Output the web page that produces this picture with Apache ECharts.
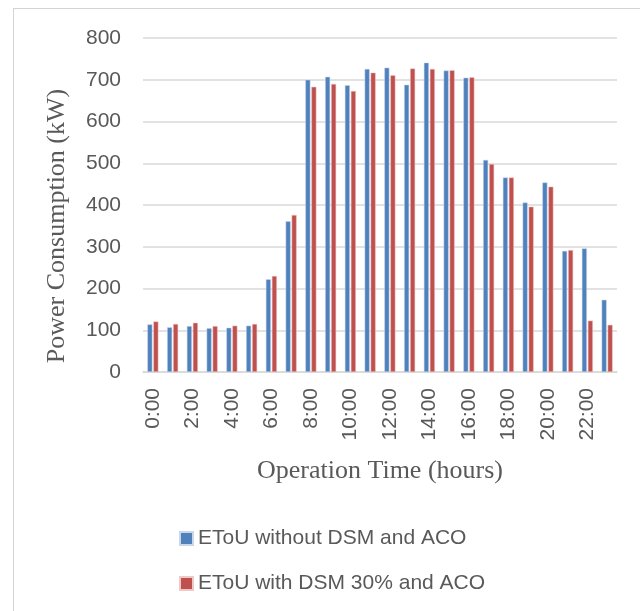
<!DOCTYPE html>
<html>
<head>
<meta charset="utf-8">
<script src="https://cdn.jsdelivr.net/npm/echarts@6/dist/echarts.min.js"></script>
<style>
html,body{margin:0;padding:0;background:#fff;}
#frame{position:absolute;left:13px;top:8px;width:627px;height:603px;border-left:1.5px solid #d4d4d4;border-top:1.5px solid #d4d4d4;box-sizing:border-box;}
#main{position:absolute;left:0;top:0;width:640px;height:611px;}
</style>
</head>
<body>
<div id="frame"></div>
<div id="main"></div>
<script>
const categories = ['0:00','1:00','2:00','3:00','4:00','5:00','6:00','7:00','8:00','9:00','10:00','11:00',
  '12:00','13:00','14:00','15:00','16:00','17:00','18:00','19:00','20:00','21:00','22:00','23:00'];
const seriesNames = ['EToU without DSM and ACO','EToU with DSM 30% and ACO'];
const withoutDSM = [114,107,110,105,106,111,222,361,700,707,687,726,729,688,741,722,705,508,466,406,454,290,296,173];
const withDSM30  = [121,115,118,110,111,115,230,376,683,690,673,717,711,727,726,723,706,498,466,396,444,292,123,113];
const yTicks = {min:0, max:800, interval:100};

const chart = echarts.init(document.getElementById('main'), null, {renderer:'canvas'});
chart.setOption({
  animation:false,
  backgroundColor:'transparent',
  grid:{left:143, right:23, top:38, bottom:239, containLabel:false},
  legend:{
    orient:'vertical', left:179, top:528, itemGap:24, padding:0,
    itemWidth:13, itemHeight:13, icon:'rect',
    textStyle:{fontFamily:'Liberation Sans', fontSize:21, color:'#595959'},
    data:seriesNames
  },
  xAxis:{
    type:'category', data:categories,
    name:'Operation Time (hours)', nameLocation:'middle', nameGap:86,
    nameTextStyle:{fontFamily:'Liberation Serif', fontSize:26, color:'#595959'},
    axisLine:{lineStyle:{color:'#d9d9d9', width:1.5}},
    axisTick:{show:false},
    axisLabel:{interval:1, rotate:90, margin:16, fontFamily:'Liberation Sans', fontSize:21, color:'#595959'}
  },
  yAxis:{
    type:'value', min:yTicks.min, max:yTicks.max, interval:yTicks.interval,
    name:'Power Consumption (kW)', nameLocation:'middle', nameGap:73,
    nameTextStyle:{fontFamily:'Liberation Serif', fontSize:26, color:'#595959', padding:[0,42,0,0]},
    axisLine:{show:false}, axisTick:{show:false},
    axisLabel:{margin:22, fontFamily:'Liberation Sans', fontSize:21, color:'#595959'},
    splitLine:{lineStyle:{color:'#d9d9d9', width:1.5}}
  },
  series:[
    {name:seriesNames[0], type:'bar', data:withoutDSM, barWidth:5, barGap:'20%',
     itemStyle:{color:'#4F81BD', borderColor:'#c9d7ea', borderWidth:0.5}},
    {name:seriesNames[1], type:'bar', data:withDSM30, barWidth:5,
     itemStyle:{color:'#C0504D', borderColor:'#edc9c8', borderWidth:0.5}}
  ]
});
</script>
</body>
</html>
